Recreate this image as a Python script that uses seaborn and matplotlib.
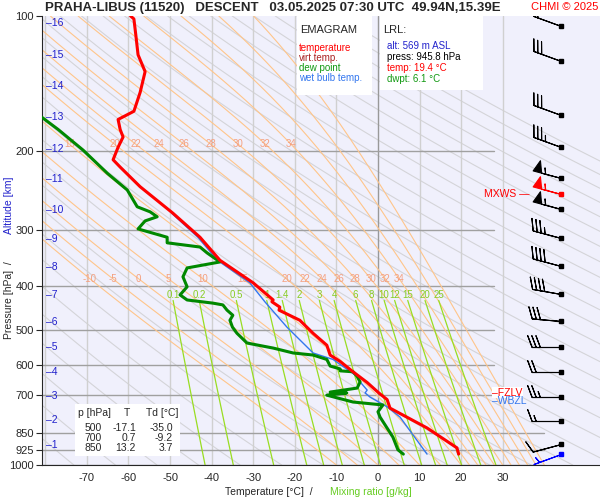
import numpy as np
import pandas as pd
import matplotlib
matplotlib.use("Agg")
import matplotlib.pyplot as plt
import seaborn as sns

# ---------------- data ----------------
temp_p = [945.8, 916, 827, 747, 715, 691, 655, 620, 588, 569, 541, 509, 476, 452, 445, 433, 429,
          393, 350, 311, 275, 240, 217, 209, 196, 186, 179, 170, 163, 148, 133, 122, 111, 101.5, 100]
temp_t = [19.4, 19.0, 11.8, 2.9, 2.2, 0.2, -2.6, -6.0, -9.1, -11.5, -12.3, -15.6, -18.8, -23.8, -23.6,
          -25.5, -25.2, -30.0, -38.0, -42.8, -49.3, -57.2, -62.0, -63.7, -62.5, -61.3, -62.0, -62.5,
          -58.7, -57.2, -56.0, -57.7, -58.2, -58.7, -59.5]

dew_p = [945.8, 925, 867, 782, 761, 735, 724, 699, 691, 688, 674, 653, 635, 620, 617, 611, 602, 582,
         569, 563, 549, 535, 509, 493, 476, 464, 452, 440, 436, 429, 418, 401, 381, 364, 353, 337,
         327, 320, 311, 298, 286, 280, 273, 266, 244, 224, 199, 179, 165]
dew_t = [6.1, 4.8, 3.6, 0.5, 0.0, 1.2, -6.0, -12.3, -7.5, -11.5, -5.0, -4.3, -5.0, -6.0, -9.1, -9.1,
         -11.5, -12.3, -15.6, -20.4, -25.2, -31.5, -33.9, -35.0, -35.6, -34.9, -36.3, -37.3, -39.7,
         -45.9, -47.6, -45.9, -46.9, -45.9, -38.0, -41.1, -42.8, -50.7, -50.7, -57.7, -56.0, -53.1,
         -54.8, -57.9, -60.3, -65.1, -70.9, -76.9, -82.0]

wet_p = [945.8, 782, 742, 706, 691, 681, 653, 635, 582, 563, 493, 433, 393, 350, 311, 275]
wet_t = [11.8, 5.3, 2.2, -1.9, -3.1, -2.6, -4.3, -5.0, -10.8, -15.6, -21.9, -27.2, -30.8, -38.6, -43.3, -49.6]

wind_p = [105, 126, 166, 196, 229, 249, 269, 312, 360, 416, 477, 546, 620, 705, 797, 899, 945.8]
wind_spd = [20, 30, 30, 35, 55, 55, 55, 35, 40, 40, 30, 30, 20, 25, 15, 10, 5]
wind_dir = [290, 290, 290, 290, 285, 285, 285, 285, 285, 280, 275, 270, 270, 270, 270, 255, 250]

km_levels = list(range(1, 17))
km_p = [901, 794, 702, 620, 546, 480, 418, 362, 314, 270, 231, 198, 168, 143, 122, 103.6]

p_ticks = [100, 200, 300, 400, 500, 600, 700, 850, 925, 1000]
t_ticks = [-70, -60, -50, -40, -30, -20, -10, 0, 10, 20, 30]
mix_ratios = [0.1, 0.2, 0.5, 1, 1.4, 2, 3, 4, 6, 8, 10, 12, 15, 20, 25]
thw_list = [-10, -5, 0, 5, 10, 15, 20, 22, 24, 26, 28, 30, 32, 34, 36, 38, 40]

tab_p = [500, 700, 850]
tab_t = [-17.1, 0.7, 13.2]
tab_td = [-35.0, -9.2, 3.7]

# ---------------- figure ----------------
sns.set_style("ticks")
plt.rcParams['font.family'] = ['Liberation Sans', 'DejaVu Sans']
fig = plt.figure(figsize=(6, 5), dpi=100)
def P(x, y):
    return (x/600, 1 - y/500)
L, R, B, T = 42/600, 1.0, 1-465/500, 1-16/500
ax = fig.add_axes([L, B, R-L, T-B])
ax.set_facecolor('#f0f0fc')
ax.set_yscale('log')
xmin, xmax = -80.8, 53.4
ax.set_xlim(xmin, xmax)
ax.set_ylim(1000, 100)
for s in ['top', 'right']:
    ax.spines[s].set_visible(False)

pp = np.logspace(np.log10(1000), 2, 300)
for th in range(180, 520, 10):
    ax.plot(th*(pp/1000)**0.286 - 273.15, pp, color='#d4d4d8', lw=0.8, zorder=1)

def moist(tw):
    Rd, cp, Lv, eps = 287.0, 1005.0, 2.5e6, 0.622
    ps = np.linspace(1000, 100, 900)
    Ts = [tw + 273.15]
    for i in range(1, len(ps)):
        Tk = Ts[-1]; p = ps[i-1]
        es = 6.112*np.exp(17.67*(Tk-273.15)/(Tk-29.65))
        rs = eps*es/(p-es)
        dTdp = (Rd*Tk + Lv*rs)/(p*(cp + Lv*Lv*rs*eps/(Rd*Tk*Tk)))
        Ts.append(Tk + dTdp*(ps[i]-p))
    return ps, np.array(Ts) - 273.15
for tw in thw_list:
    ps, ts = moist(tw)
    ax.plot(ts, ps, color='#ffc58a', lw=0.8, zorder=1.5)
    if tw <= 34:
        t400 = np.interp(385, ps[::-1], ts[::-1])
        ax.text(t400, 385, str(tw), color='#f4a080', fontsize=7, ha='center', va='center', zorder=2)
    if 15 <= tw <= 34:
        t200 = np.interp(193, ps[::-1], ts[::-1])
        if t200 < -15:
            ax.text(t200, 193, str(tw), color='#f4a080', fontsize=7, ha='center', va='center', zorder=2)

pm = np.linspace(1000, 430, 100)
for w in mix_ratios:
    e = w*pm/(622 + w)
    g = np.log(e/6.112)
    td = 243.5*g/(17.67 - g)
    ax.plot(td, pm, color='#99dd22', lw=0.9, zorder=1.6)
    ax.text(td[-1], 418, ('%g' % w), color='#88cc22', fontsize=7, ha='center', va='center', zorder=2)

for t in range(-80, 40, 10):
    ax.axvline(t, color='#999999' if t == 0 else '#d0d0d0', lw=1.0, zorder=1.2)
for p in [200, 300, 400, 500, 600, 700]:
    ax.plot([xmin, 27.8], [p, p], color='#a0a0a0', lw=1.0, zorder=1.3)
for p in [850, 925, 1000]:
    ax.plot([xmin, 40], [p, p], color='#a0a0a0', lw=1.0, zorder=1.3)

df_t = pd.DataFrame({'T': temp_t, 'p': temp_p})
df_d = pd.DataFrame({'T': dew_t, 'p': dew_p})
df_w = pd.DataFrame({'T': wet_t, 'p': wet_p})
sns.lineplot(data=df_w, x='T', y='p', sort=False, color='#3377ee', lw=1.0, ax=ax, zorder=5, estimator=None)
sns.lineplot(data=df_d, x='T', y='p', sort=False, color='#008800', lw=2.2, ax=ax, zorder=6, estimator=None)
sns.lineplot(data=df_t, x='T', y='p', sort=False, color='#ff0000', lw=2.2, ax=ax, zorder=7, estimator=None)
ax.set_xlim(xmin, xmax); ax.set_ylim(1000, 100)

ax.set_yticks(p_ticks)
ax.set_yticklabels([str(p) for p in p_ticks], fontsize=8)
ax.yaxis.set_minor_locator(matplotlib.ticker.NullLocator())
ax.set_xticks(t_ticks)
ax.set_xticklabels([str(t) for t in t_ticks], fontsize=8)
ax.tick_params(axis='x', length=0, pad=6)
ax.tick_params(axis='y', length=4, pad=2)
ax.set_xlabel(''); ax.set_ylabel('')

for k, p in zip(km_levels, km_p):
    ax.text(-79.8, p, '\u2013' + str(k), color='#2222cc', fontsize=7.5, ha='left', va='center', zorder=8)

# winds
xw = 44.0
wd = np.radians(np.array(wind_dir))
sp = np.array(wind_spd, float)
u = -sp*np.sin(wd); v = -sp*np.cos(wd)
cols = ['k']*len(wind_p); cols[5] = 'red'; cols[-1] = 'blue'
for i in range(len(wind_p)):
    ax.barbs([xw], [wind_p[i]], [u[i]], [v[i]], color=cols[i], length=6.5, lw=0.8, zorder=8,
             sizes=dict(emptybarb=0, height=0.4, spacing=0.14, width=0.3),
             barb_increments=dict(half=5, full=10, flag=50))
    ax.plot([xw], [wind_p[i]], 's', color=cols[i], ms=2.2, zorder=9)
ax.text(25.5, 249, 'MXWS \u2014', color='red', fontsize=7.5, ha='left', va='center')
ax.text(27.5, 690, '\u2013FZLV', color='red', fontsize=7.5, ha='left', va='center',
        bbox=dict(fc='white', ec='none', pad=0.3))
ax.text(27.5, 722, '\u2013WBZL', color='#3377ee', fontsize=7.5, ha='left', va='center')

# EMAGRAM box
fig.patches.append(plt.Rectangle(P(297, 95), 75/600, 79/500, transform=fig.transFigure,
                                 fc='white', ec='none', zorder=3))
fig.text(*P(300, 30), 'EMAGRAM', fontsize=8, va='center', ha='left', zorder=4)
for (s, c, y) in [('temperature', 'red', 48), ('virt.temp.', '#aa2222', 58),
                  ('dew point', '#119911', 68), ('wet bulb temp.', '#3377ee', 78)]:
    fig.text(*P(299, y), s, color=c, fontsize=7, va='center', ha='left', zorder=4)
# LRL box
fig.patches.append(plt.Rectangle(P(380, 90), 103/600, 74/500, transform=fig.transFigure,
                                 fc='white', ec='none', zorder=3))
fig.text(*P(383, 30), 'LRL:', fontsize=8, va='center', ha='left', zorder=4)
for (s, c, y) in [('alt: 569 m ASL', '#2222cc', 46), ('press: 945.8 hPa', 'black', 57),
                  ('temp: 19.4 \u00b0C', 'red', 68), ('dwpt: 6.1 \u00b0C', '#119911', 79)]:
    fig.text(*P(387, y), s, color=c, fontsize=7, va='center', ha='left', zorder=4)

# table
fig.patches.append(plt.Rectangle(P(75, 456), 105/600, 52/500, transform=fig.transFigure,
                                 fc='white', ec='none', zorder=3))
fig.text(*P(78, 413), 'p [hPa]', fontsize=7.5, ha='left', va='center', zorder=4)
fig.text(*P(124, 413), 'T', fontsize=7.5, ha='left', va='center', zorder=4)
fig.text(*P(146, 413), 'Td [\u00b0C]', fontsize=7.5, ha='left', va='center', zorder=4)
for i, (p, t, d) in enumerate(zip(tab_p, tab_t, tab_td)):
    y = 428 + 10*i
    fig.text(*P(102, y), str(p), fontsize=7.5, ha='right', va='center', zorder=4)
    fig.text(*P(136, y), '%.1f' % t, fontsize=7.5, ha='right', va='center', zorder=4)
    fig.text(*P(173, y), '%.1f' % d, fontsize=7.5, ha='right', va='center', zorder=4)

# titles
fig.text(*P(273, 8), 'PRAHA-LIBUS (11520)   DESCENT   03.05.2025 07:30 UTC  49.94N,15.39E',
         fontsize=9.5, fontweight='bold', ha='center', va='center')
fig.text(*P(598, 7), 'CHMI \u00a9 2025', color='red', fontsize=8, ha='right', va='center')
fig.text(*P(225, 492), 'Temperature [\u00b0C]  /  ', fontsize=7.5, ha='left', va='center')
fig.text(*P(330, 492), 'Mixing ratio [g/kg]', fontsize=7.5, color='#66cc22', ha='left', va='center')
fig.text(*P(9, 297), 'Pressure [hPa]  /  ', fontsize=7.5, rotation=90, ha='center', va='center')
fig.text(*P(9, 205), 'Altitude [km]', fontsize=7.5, color='#2222cc', rotation=90, ha='center', va='center')

fig.savefig('out.png', dpi=100)
